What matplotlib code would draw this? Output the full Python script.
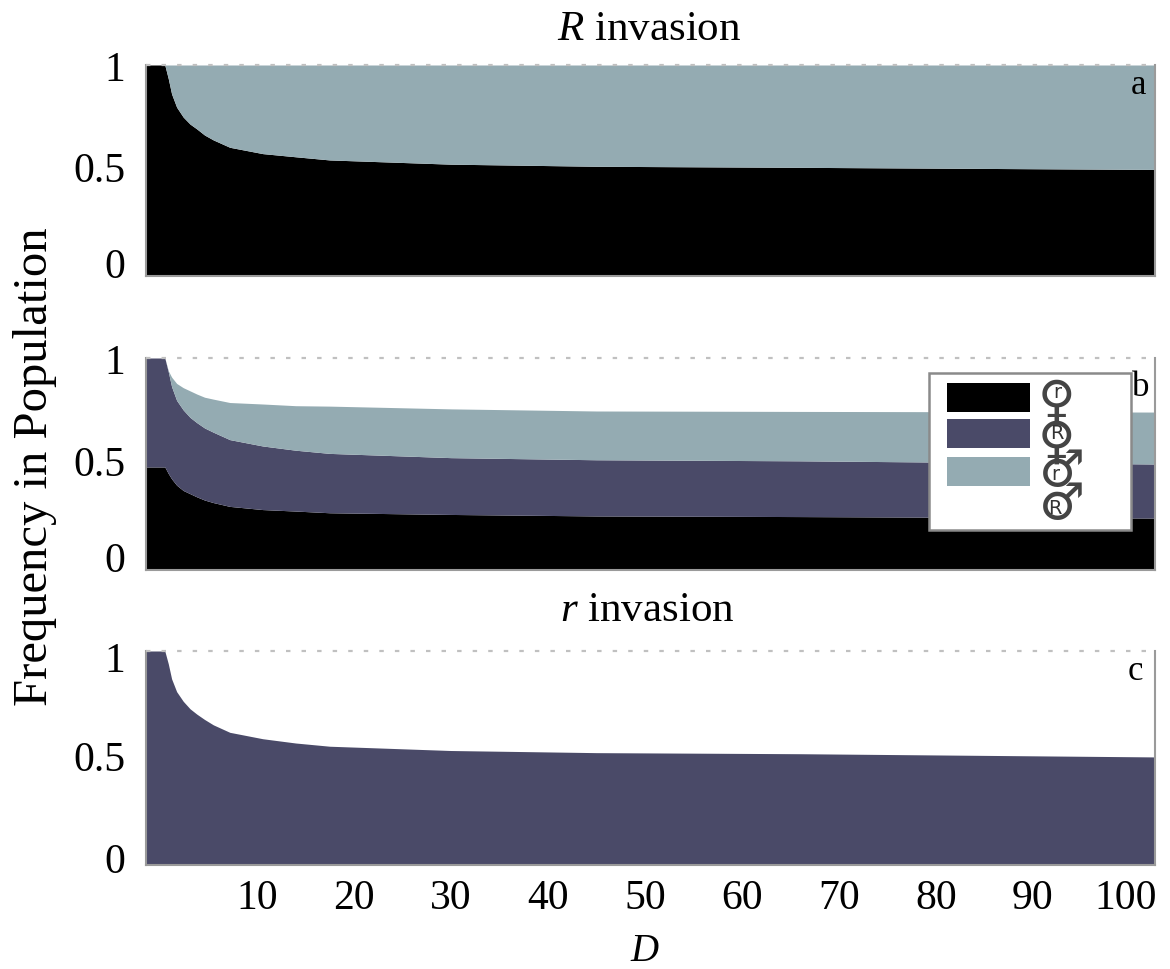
import matplotlib
matplotlib.use("Agg")
import matplotlib.pyplot as plt
from matplotlib.patches import Rectangle
from matplotlib.transforms import ScaledTranslation

W, H = 1170, 970
plt.rcParams['font.family'] = ['Liberation Serif', 'DejaVu Serif']
plt.rcParams['mathtext.fontset'] = 'custom'
plt.rcParams['mathtext.it'] = 'Liberation Serif:italic'
plt.rcParams['mathtext.rm'] = 'Liberation Serif'

BLACK = '#000000'
PURPLE = '#4A4A68'
TEAL = '#94ABB2'
GREY = '#9A9A9A'

D = [-1.44, 0.5, 0.86, 1.2, 1.72, 2.4, 3.1, 3.8, 4.6, 5.5, 7.2, 10.6, 14.0, 17.5, 30.0, 45.0, 66.0, 102.6]

a_rf = [1.0, 1.0, 0.935, 0.863, 0.80, 0.753, 0.72, 0.697, 0.668, 0.645, 0.61, 0.58, 0.565, 0.55, 0.53, 0.52, 0.515, 0.505]

b_rf = [0.486, 0.486, 0.455, 0.43, 0.40, 0.375, 0.36, 0.345, 0.33, 0.318, 0.30, 0.285, 0.278, 0.27, 0.262, 0.255, 0.252, 0.245]
b_Rf = [1.0, 1.0, 0.935, 0.865, 0.80, 0.755, 0.72, 0.695, 0.67, 0.65, 0.615, 0.585, 0.565, 0.55, 0.53, 0.52, 0.515, 0.50]
b_rm = [1.0, 1.0, 0.94, 0.91, 0.88, 0.86, 0.845, 0.83, 0.815, 0.806, 0.79, 0.783, 0.775, 0.773, 0.76, 0.75, 0.748, 0.745]

c_Rf = [1.0, 1.0, 0.94, 0.87, 0.81, 0.765, 0.73, 0.705, 0.68, 0.655, 0.62, 0.59, 0.57, 0.555, 0.535, 0.525, 0.52, 0.505]

xticks = [10, 20, 30, 40, 50, 60, 70, 80, 90, 100]
yticks = [0, 0.5, 1]
ylabels = ['0', '0.5', '1']


def make_ax(top, bottom, left=146, right=1155):
    return fig.add_axes([left / W, 1 - bottom / H, (right - left) / W, (bottom - top) / H])


def shift(label, dx, dy):
    label.set_transform(label.get_transform() +
                        ScaledTranslation(dx / 100, dy / 100, fig.dpi_scale_trans))


def style(ax, yshift):
    ax.set_xlim(D[0], D[-1])
    ax.set_ylim(0, 1)
    ax.margins(0)
    ax.spines['top'].set_visible(False)
    for s in ('left', 'right', 'bottom'):
        ax.spines[s].set_color(GREY)
        ax.spines[s].set_linewidth(1.5)
    ax.axhline(1, color='#C0C0C0', lw=1.6, ls=(0, (2, 5)), clip_on=False, zorder=5)
    ax.set_yticks(yticks)
    ax.set_yticklabels(ylabels, fontsize=30)
    ax.tick_params(axis='y', length=0, pad=15)
    for lab, dy in zip(ax.get_yticklabels(), yshift):
        shift(lab, 0, dy)
    ax.set_xticks(xticks)
    ax.tick_params(axis='x', length=0, labelbottom=False)


fig = plt.figure(figsize=(W / 100, H / 100), dpi=100)

ax_a = make_ax(66, 277)
ax_a.fill_between(D, 0, a_rf, color=BLACK, lw=0)
ax_a.fill_between(D, a_rf, 1, color=TEAL, lw=0)
style(ax_a, (14, 4, 0))

ax_b = make_ax(359, 571)
ax_b.fill_between(D, 0, b_rf, color=BLACK, lw=0)
ax_b.fill_between(D, b_rf, b_Rf, color=PURPLE, lw=0)
ax_b.fill_between(D, b_Rf, b_rm, color=TEAL, lw=0)
style(ax_b, (14, 4, 0))

ax_c = make_ax(652, 866)
ax_c.fill_between(D, 0, c_Rf, color=PURPLE, lw=0)
style(ax_c, (8, 3, -5))
ax_c.tick_params(axis='x', labelbottom=True, labelsize=30, pad=10)
ax_c.set_xticklabels([str(t) for t in xticks])
shift(ax_c.get_xticklabels()[-1], -4, 0)


def px(x, y, s, **kw):
    fig.text(x / W, 1 - y / H, s, ha='center', va='center', **kw)


px(649, 30, r'$\mathit{R}$ invasion', fontsize=31)
px(647, 611, r'$\mathit{r}$ invasion', fontsize=31)
px(645, 952, r'$\mathit{D}$', fontsize=28)
px(35, 467, 'Frequency in Population', fontsize=35, rotation=90)
px(1139, 85, 'a', fontsize=25)
px(1141, 387, 'b', fontsize=25)
px(1135, 672, 'c', fontsize=25)

# legend box, in reference pixels
lg = fig.add_axes([0, 0, 1, 1], facecolor='none', zorder=10)
lg.set_xlim(0, W)
lg.set_ylim(H, 0)
lg.axis('off')
lg.add_patch(Rectangle((929, 374), 202, 157, fc='white', ec='#8A8A8A', lw=1.8))
legend_colors = [BLACK, PURPLE, TEAL]
legend_tops = [384, 420, 458]
for col, top in zip(legend_colors, legend_tops):
    lg.add_patch(Rectangle((947, top), 83, 29, fc=col, ec='none'))
legend_syms = [('♀', 'r', 1056, 403, 1057, 393),
               ('♀', 'R', 1056, 444, 1057, 434),
               ('♂', 'r', 1062, 472, 1055, 475),
               ('♂', 'R', 1062, 505, 1055, 508)]
for sym, letter, xs, ys, xl, yl in legend_syms:
    lg.text(xs, ys, sym, fontsize=37, ha='center', va='center',
            family='DejaVu Sans', color='#444444')
    lg.text(xl, yl, letter, fontsize=14, ha='center', va='center',
            family='DejaVu Sans', color='#333333')

fig.savefig('out.png', dpi=100)
